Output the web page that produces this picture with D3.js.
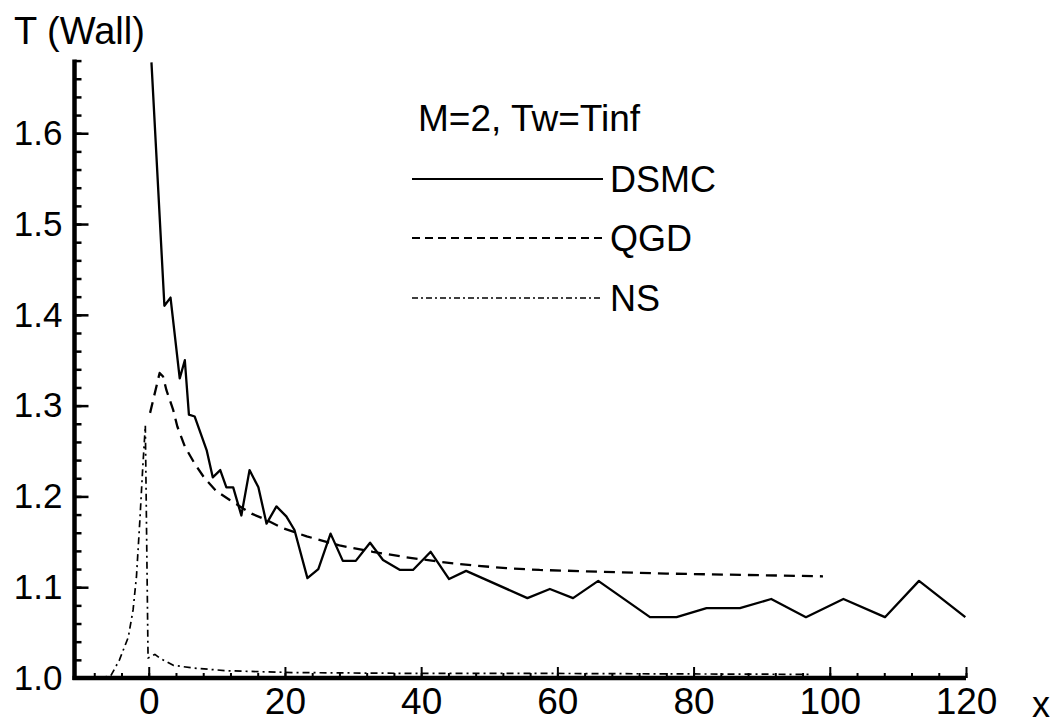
<!DOCTYPE html>
<html>
<head>
<meta charset="utf-8">
<script src="https://cdn.jsdelivr.net/npm/d3@7"></script>
<style>
  html, body { margin: 0; padding: 0; background: #fff; }
  svg { display: block; }
  text { font-family: "Liberation Sans", Arial, Helvetica, sans-serif; fill: #000; }
</style>
</head>
<body>
<svg id="chart" width="1058" height="727"></svg>
<script>
// ---- data ----
const dsmcX = [0.4, 2.3, 3.2, 4.55, 5.3, 5.9, 6.75, 8.5, 9.4, 10.5, 11.4, 12.4, 13.6, 14.8, 16.1, 17.3, 18.75, 20.2, 21.4, 23.3, 24.9, 26.7, 28.5, 30.4, 32.5, 34.4, 36.9, 38.8, 41.4, 44.1, 46.6, 55.6, 58.9, 62.3, 66.0, 73.6, 77.5, 81.9, 86.8, 91.4, 96.5, 102.0, 108.1, 113.1, 119.9];
const dsmcY = [1.678, 1.41, 1.419, 1.330, 1.350, 1.290, 1.288, 1.251, 1.221, 1.229, 1.210, 1.210, 1.179, 1.229, 1.210, 1.170, 1.189, 1.178, 1.163, 1.110, 1.120, 1.159, 1.129, 1.129, 1.149, 1.130, 1.119, 1.119, 1.139, 1.109, 1.118, 1.088, 1.098, 1.088, 1.107, 1.067, 1.067, 1.077, 1.077, 1.087, 1.067, 1.087, 1.067, 1.107, 1.067];

const qgdX = [0.2, 1.6, 2.1, 2.6, 3.6, 4.2, 5.3, 6.75, 8.2, 9.9, 11.9, 13.4, 15.1, 17.3, 19.7, 23.2, 28, 32.9, 37.8, 42.7, 47.6, 52.5, 57.4, 76, 99];
const qgdY = [1.292, 1.336, 1.332, 1.317, 1.295, 1.277, 1.255, 1.236, 1.220, 1.206, 1.196, 1.189, 1.181, 1.174, 1.165, 1.156, 1.146, 1.139, 1.133, 1.128, 1.124, 1.121, 1.119, 1.115, 1.112];

const nsX = [-8, -5.6, -4.3, -3.0, -2.3, -1.8, -1.3, -0.9, -0.5, -0.1, 0.9, 1.6, 3.6, 6.5, 11.4, 21.1, 40, 60, 97];
const nsY = [1.0, 1.002, 1.02, 1.045, 1.075, 1.112, 1.174, 1.229, 1.278, 1.022, 1.026, 1.022, 1.014, 1.011, 1.008, 1.006, 1.005, 1.005, 1.004];

const xTickValues = [0, 20, 40, 60, 80, 100, 120];
const yTickValues = [1.0, 1.1, 1.2, 1.3, 1.4, 1.5, 1.6];
const seriesNames = ["DSMC", "QGD", "NS"];
const legendTitle = "M=2, Tw=Tinf";
const yTitle = "T (Wall)";
const xTitle = "x";

// ---- layout ----
const svg = d3.select("#chart");
const xMin = -10.9, xMax = 120, yMin = 1.0, yMax = 1.68;
const x = d3.scaleLinear().domain([xMin, xMax]).range([74.5, 966]);
const y = d3.scaleLinear().domain([yMin, yMax]).range([678, 60.6]);

const styles = {
  DSMC: { dash: null, width: 2.3, legendDash: null },
  QGD:  { dash: "11,7", width: 2.3, legendDash: "8,5" },
  NS:   { dash: "7,4,2,4", width: 1.7, legendDash: "6,3,2,3" }
};

const line = d3.line().x(d => x(d[0])).y(d => y(d[1]));
const series = [
  { name: "DSMC", pts: d3.zip(dsmcX, dsmcY) },
  { name: "QGD", pts: d3.zip(qgdX, qgdY) },
  { name: "NS", pts: d3.zip(nsX, nsY) }
];

series.forEach(s => {
  svg.append("path")
    .datum(s.pts)
    .attr("d", line)
    .attr("fill", "none")
    .attr("stroke", "#000")
    .attr("stroke-width", styles[s.name].width)
    .attr("stroke-dasharray", styles[s.name].dash)
    .attr("stroke-linejoin", "round");
});

// ---- axes ----
const yAxisG = svg.append("g").attr("transform", `translate(${x(xMin)},0)`);
const yMinor = d3.range(0, 35).map(i => +(1.0 + i * 0.02).toFixed(2));
yAxisG.call(d3.axisRight(y).tickValues(yMinor).tickSize(7).tickFormat(""));
yAxisG.append("g").call(d3.axisRight(y).tickValues(yTickValues).tickSize(14).tickFormat(""));
yAxisG.selectAll(".domain").remove();
yAxisG.selectAll("line").attr("stroke", "#000").attr("stroke-width", 2.5);
yAxisG.append("line")
  .attr("x1", 0).attr("x2", 0)
  .attr("y1", y(yMax) - 1).attr("y2", y(yMin) + 2)
  .attr("stroke", "#000").attr("stroke-width", 4.5);

const yLab = svg.append("g").attr("transform", `translate(${x(xMin)},0)`)
  .call(d3.axisLeft(y).tickValues(yTickValues).tickSize(0).tickPadding(12).tickFormat(d3.format(".1f")));
yLab.select(".domain").remove();
yLab.selectAll("text")
  .attr("font-size", 35)
  .attr("font-family", "Liberation Sans, Arial, sans-serif")
  .attr("fill", "#000");

const xAxisG = svg.append("g").attr("transform", `translate(0,${y(yMin)})`);
const xMinor = d3.range(-8, 121, 4);
xAxisG.call(d3.axisTop(x).tickValues(xMinor).tickSize(5).tickFormat(""));
xAxisG.append("g").call(d3.axisTop(x).tickValues(xTickValues).tickSize(11).tickFormat(""));
xAxisG.selectAll(".domain").remove();
xAxisG.selectAll("line").attr("stroke", "#000").attr("stroke-width", 2);
xAxisG.append("line")
  .attr("x1", x(xMin) - 2).attr("x2", x(xMax))
  .attr("y1", 0).attr("y2", 0)
  .attr("stroke", "#000").attr("stroke-width", 4.5);

const xLab = svg.append("g").attr("transform", `translate(0,${y(yMin)})`)
  .call(d3.axisBottom(x).tickValues(xTickValues).tickSize(0).tickPadding(10).tickFormat(d3.format("d")));
xLab.select(".domain").remove();
xLab.selectAll("text")
  .attr("font-size", 37)
  .attr("font-family", "Liberation Sans, Arial, sans-serif")
  .attr("fill", "#000");

svg.append("text").attr("x", 14).attr("y", 44).attr("font-size", 38).text(yTitle);
svg.append("text").attr("x", 1032).attr("y", 717).attr("font-size", 36).text(xTitle);

// ---- legend ----
const leg = svg.append("g");
leg.append("text").attr("x", 418).attr("y", 131).attr("font-size", 37).text(legendTitle);
const legY = [179, 238, 298];
seriesNames.forEach((n, i) => {
  leg.append("line")
    .attr("x1", 412).attr("x2", 603)
    .attr("y1", legY[i]).attr("y2", legY[i])
    .attr("stroke", "#000")
    .attr("stroke-width", n === "NS" ? 1.7 : 2.2)
    .attr("stroke-dasharray", styles[n].legendDash);
  leg.append("text").attr("x", 610).attr("y", legY[i] + 13).attr("font-size", 36).text(n);
});
</script>
</body>
</html>
